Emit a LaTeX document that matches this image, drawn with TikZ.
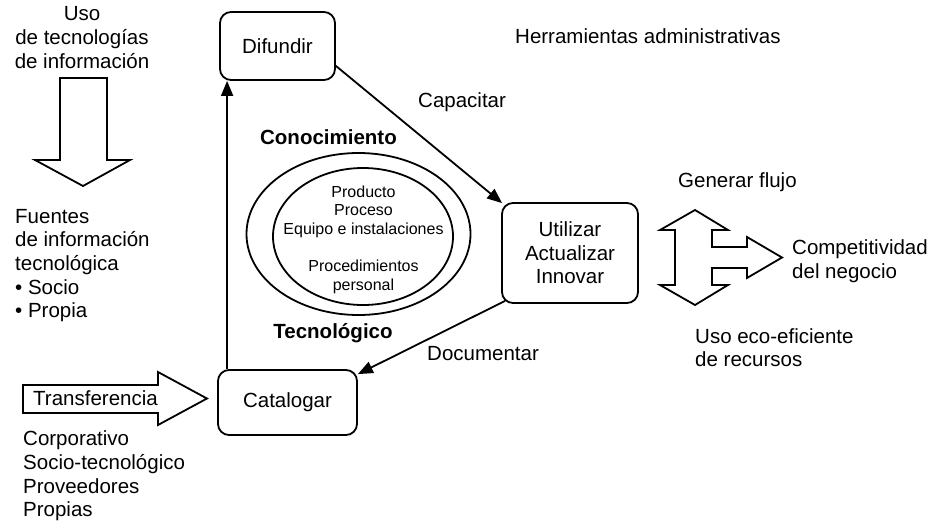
\documentclass[tikz,border=0pt]{standalone}
\usepackage{fontspec}
\setmainfont{Liberation Sans}
\usetikzlibrary{arrows.meta,shapes.geometric}
\begin{document}
\begin{tikzpicture}[x=1pt,y=-1pt,
  every node/.style={inner sep=0pt, font=\fontsize{20.5}{23.6}\selectfont},
  box/.style={draw, line width=1.8pt, rounded corners=11pt, align=center},
  arr/.style={line width=1.8pt, -{Triangle[length=15pt,width=12pt]}},
  blockarrow/.style={draw, line width=1.8pt, line join=miter, fill=white},
  ell/.style={draw, ellipse, line width=1.8pt},
  small/.style={font=\fontsize{16}{18.5}\selectfont},
  bold/.style={font=\fontsize{20.5}{23.6}\selectfont\bfseries}]
\useasboundingbox (0,0) rectangle (939,525);

% boxes
\node[box, minimum width=115pt, minimum height=68pt] (dif) at (277.5,46) {Difundir};
\node[box, minimum width=136pt, minimum height=100pt] (uti) at (570,253) {Utilizar\\Actualizar\\Innovar};
\node[box, minimum width=139pt, minimum height=65pt] (cat) at (287.5,402.5) {Catalogar};

% ellipses
\node[ell, minimum width=224pt, minimum height=162pt] (outer) at (358.5,234) {};
\node[ell, minimum width=180pt, minimum height=137pt] (inner) at (363,236.5) {};
\node[small, align=center] (t1) at (363.5,211.5) {Producto\\Proceso\\Equipo e instalaciones};
\node[small, align=center] (t2) at (363.5,277) {Procedimientos\\personal};
\node[bold] (con) at (328.5,137) {Conocimiento};
\node[bold] (tec) at (333,333) {Tecnológico};

% connectors
\coordinate (vbot) at ([xshift=10pt]cat.north west);
\draw[arr] (vbot) -- (vbot |- dif.south);
\draw[arr] ([yshift=15pt]dif.south east) -- ([shift={(1pt,-1pt)}]uti.north west);
\draw[arr] ([shift={(4pt,3pt)}]uti.south west) -- ([yshift=-5pt]cat.north east);

% block arrows
\draw[blockarrow] (60,78) -- (107,78) -- (107,160) -- (130,160) -- (83,186) -- (35,160) -- (60,160) -- cycle;
\draw[blockarrow] (23,385) -- (158,385) -- (158,372) -- (207,398.5) -- (158,425) -- (158,413) -- (23,413) -- cycle;
\node[anchor=west] (transf) at (33,398) {Transferencia};
\draw[blockarrow] (695,210) -- (728,230) -- (712,230) -- (712,247) -- (747,247) -- (747,237)
  -- (782,257.5) -- (747,278) -- (747,268) -- (712,268) -- (712,285) -- (728,285) -- (695,305)
  -- (660,285) -- (675,285) -- (675,230) -- (660,230) -- cycle;

% texts
\node[align=center] (uso) at (82,37.5) {Uso\\de tecnologías\\de información};
\node[align=left, anchor=west] (fuentes) at (15,265.5) {Fuentes\\de información\\tecnológica\\• Socio\\• Propia};
\node[align=left, anchor=west] (corp) at (23,476) {Corporativo\\Socio-tecnológico\\Proveedores\\Propias};
\node[anchor=west] (herr) at (515,36) {Herramientas administrativas};
\node[anchor=west] (capa) at (418,102) {Capacitar};
\node[anchor=west] (docu) at (427,354) {Documentar};
\node[anchor=west] (gen) at (678,182) {Generar flujo};
\node[align=left, anchor=west] (comp) at (792,261) {Competitividad\\del negocio};
\node[align=left, anchor=west] (ecoef) at (695,347.5) {Uso eco-eficiente\\de recursos};
\end{tikzpicture}
\end{document}
